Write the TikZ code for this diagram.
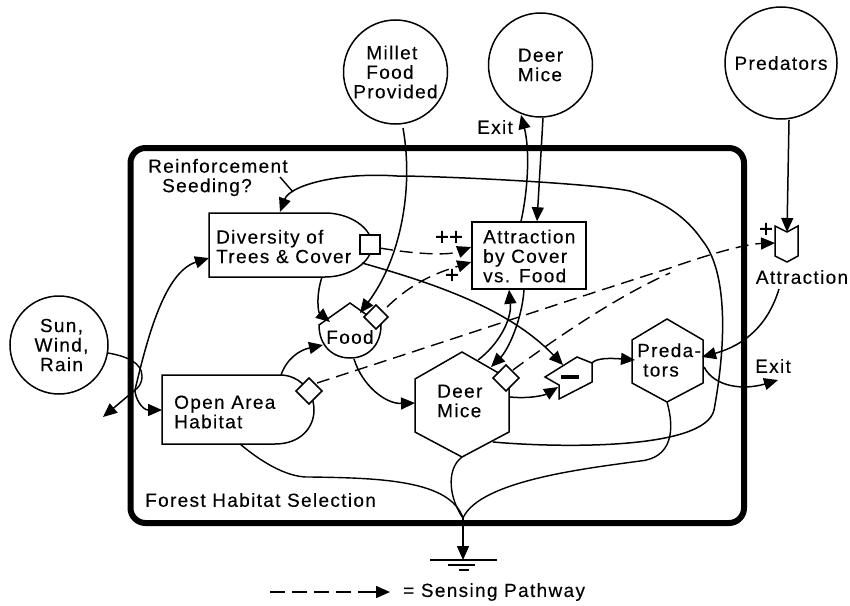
\documentclass[tikz,border=0pt]{standalone}
\usepackage{fontspec}
\setmainfont{Liberation Sans}
\usetikzlibrary{arrows.meta,calc}
\newcommand{\lbl}{\fontsize{19}{19.5}\selectfont\addfontfeatures{LetterSpace=7,FakeBold=0.25}}
\newcommand{\lblb}{\fontsize{24}{24}\selectfont\addfontfeatures{FakeBold=0.8}}
\tikzset{
  x=1pt,y=-1pt,
  flow/.style={line width=1.5pt,-{Triangle[length=14pt,width=12pt]}},
  plain/.style={line width=1.4pt},
  sense/.style={line width=1.4pt,dash pattern=on 13pt off 7pt,-{Triangle[length=14pt,width=12pt]}},
  senseline/.style={line width=1.4pt,dash pattern=on 13pt off 7pt},
  stock/.style={draw,line width=1.5pt,fill=white},
  ext/.style={circle,draw,line width=1.5pt,fill=white,inner sep=0pt,align=center,font=\lbl},
  lab/.style={inner sep=0pt,align=left,font=\lbl},
  labc/.style={inner sep=0pt,align=center,font=\lbl},
  sign/.style={inner sep=0pt,font=\lblb},
}
\begin{document}
\begin{tikzpicture}
\useasboundingbox (0,0) rectangle (850,605);
\draw[line width=6pt,rounded corners=15pt] (130.5,148) rectangle (744,523);

% attach points
\coordinate (sunOut) at (108,353);
\coordinate (branch) at (135,390);
\coordinate (exitW) at (103,417);
\coordinate (divL) at (209,258);
\coordinate (divT) at (280,212);
\coordinate (divB) at (322,277);
\coordinate (divR) at (362,263);
\coordinate (openL) at (162,410);
\coordinate (openT) at (281,375);
\coordinate (openB) at (240,444);
\coordinate (foodL) at (323,345);
\coordinate (foodT) at (330,322);
\coordinate (foodM) at (360,313);
\coordinate (foodB) at (354,359);
\coordinate (deerL) at (415,403);
\coordinate (deerB) at (462,457);
\coordinate (deerLR) at (493,442);
\coordinate (deerR) at (510,397);
\coordinate (deerTA) at (478,360);
\coordinate (deerTB) at (491,367);
\coordinate (minusT) at (563,365);
\coordinate (minusB) at (558,387);
\coordinate (minusR) at (592,363);
\coordinate (predL) at (635,360);
\coordinate (predR) at (702,357);
\coordinate (predRO) at (704,367);
\coordinate (predB) at (667,402);
\coordinate (exitE) at (778,380);
\coordinate (drain) at (463,518);
\coordinate (ground) at (463,560);
\coordinate (exitN) at (521,115);
\coordinate (valveT) at (787,232);
\coordinate (valveL) at (775,243);
\coordinate (attrOut) at (779,289);
\coordinate (leaderA) at (280,177);
\coordinate (leaderB) at (293,192);
\coordinate (legA) at (270,592);
\coordinate (legB) at (390,592);
\coordinate (milOut) at (403,128);
\coordinate (miceOut) at (543,118);
\coordinate (predOut) at (789,120);

% stocks
\node[stock,rectangle,minimum width=114pt,minimum height=67pt,inner sep=0pt] (attr) at (529,255.5) {};
\draw[stock] (209,213) -- (325,213) .. controls (350,213) and (372,228) .. (372,245) .. controls (372,262) and (350,277) .. (325,277) -- (209,277) -- cycle;
\draw[stock] (162,375) -- (280,375) .. controls (300,375) and (314,392) .. (314,410) .. controls (314,428) and (300,444) .. (275,444) -- (162,444) -- cycle;
\draw[stock] (319,325) -- (350,303) -- (381,325) .. controls (381,345) and (368,358) .. (350,358) .. controls (332,358) and (319,345) .. (319,325) -- cycle;
\draw[stock] (462,352) -- (509,379) -- (509,432) -- (462,457) -- (415,432) -- (415,379) -- cycle;
\draw[stock] (667,319) -- (703,340) -- (703,383) -- (667,402) -- (632,383) -- (632,340) -- cycle;
\draw[stock] (545,377) -- (577,357) -- (592,363) -- (592,382) -- (559,399) -- (559,385) -- cycle;
\draw[stock] (775,226) -- (787,232) -- (798,226) -- (798,256) -- (787,262) -- (775,256) -- cycle;
\fill (561,375) rectangle (579,379);

% external circles
\node[ext,minimum size=98pt] (sun) at (59,345) {\hspace*{5pt}Sun,\\\hspace*{5pt}Wind,\\\hspace*{5pt}Rain};
\node[ext,minimum size=104pt,align=left] (millet) at (395.5,72) {\hspace*{13pt}Millet\\\hspace*{13pt}Food\\Provided};
\node[ext,minimum size=104pt,align=left] (mice) at (540.5,65) {Deer\\Mice};
\node[ext,minimum size=112pt] (pred) at (781,63) {Predators};

% flows
\draw[plain] (sunOut) .. controls (125,356) and (142,362) .. (142,376) .. controls (142,384) and (138,388) .. (branch);
\draw[flow] (branch) .. controls (135,398) and (142,410) .. (openL);
\draw[flow] (branch) -- (exitW);
\draw[flow] (branch) .. controls (148,335) and (165,272) .. (divL);
\draw[flow] (openT) .. controls (287,358) and (300,350) .. (foodL);
\draw[flow] (divB) .. controls (316,295) and (318,312) .. (foodT);
\draw[flow] (milOut) .. controls (414,190) and (400,260) .. (foodM);
\draw[flow] (foodB) .. controls (362,385) and (385,404) .. (deerL);
\draw[flow] (divR) .. controls (440,285) and (510,310) .. (minusT);
\draw[flow] (deerTA) .. controls (498,345) and (512,320) .. (attr.south -| 509,0);
\draw[flow] (attr.south -| 524,0) .. controls (522,320) and (508,350) .. (deerTB);
\draw[flow] (attr.north -| 521,0) .. controls (528,190) and (530,150) .. (exitN);
\draw[flow] (miceOut) -- (attr.north -| 537,0);
\draw[flow] (deerR) .. controls (530,399) and (545,395) .. (minusB);
\draw[flow] (minusR) .. controls (596,358) and (610,358) .. (predL);
\draw[flow] (predOut) -- (valveT);
\draw[flow] (attrOut) .. controls (768,325) and (745,345) .. (predR);
\draw[flow] (predRO) .. controls (715,388) and (745,390) .. (exitE);
\draw[plain] (predB) .. controls (675,430) and (672,458) .. (640,461) .. controls (590,468) and (480,480) .. (drain);
\draw[plain] (deerB) .. controls (445,470) and (450,500) .. (drain);
\draw[plain] (openB) .. controls (265,465) and (290,478) .. (310,477) .. controls (380,478) and (450,480) .. (drain);
\draw[flow] (drain) -- (ground);
\draw[flow] (deerLR) .. controls (560,448) and (705,450) .. (714,410) .. controls (727,340) and (727,270) .. (702,240) .. controls (685,215) and (660,200) .. (630,191) .. controls (590,183) and (440,176) .. (397,176) .. controls (340,172) and (290,185) .. (divT);
\draw[plain] (leaderA) -- (leaderB);

% sensing
\draw[senseline] (513,370) .. controls (560,335) and (620,295) .. (670,273);
\draw[sense] (317,383) .. controls (450,340) and (600,290) .. (670,268) .. controls (710,254) and (745,244) .. (valveL);
\draw[sense] (387,307) .. controls (415,280) and (440,272) .. (attr.west |- 0,262);
\draw[sense] (380,248) .. controls (420,255) and (450,255) .. (attr.west |- 0,247);
\draw[line width=1.4pt,dash pattern=on 15pt off 7pt] (legA) -- (372,592);
\draw[flow] (372,592) -- (legB);

% gates
\draw[stock] (360,235) rectangle (380,254);
\draw[stock] (376,305) -- (388,317) -- (376,329) -- (364,317) -- cycle;
\draw[stock] (506,365) -- (519,378) -- (506,391) -- (493,378) -- cycle;
\draw[stock] (309,378) -- (322,391) -- (309,404) -- (296,391) -- cycle;

% ground
\draw[line width=1.2pt] (430,560) -- (497,560);
\draw[line width=1.1pt] (448,565) -- (475,565);
\draw[line width=1.1pt] (459,570) -- (469,570);

% labels
\node[lab,anchor=west] (tDiv) at (216,246.5) {Diversity of\\Trees \& Cover};
\node[lab,anchor=west] (tOpen) at (174,412) {Open Area\\Habitat};
\node[labc] (tFood) at (350,337) {Food};
\node[lab,anchor=west] (tDeer) at (437,401) {Deer\\Mice};
\node[lab,anchor=west] (tPred) at (637,360) {Preda-\\\hspace*{6pt}tors};
\node[lab,anchor=west] (tAttr) at (483,256) {Attraction\\by Cover\\vs. Food};
\node[lab,anchor=west] (tRein) at (148,177.5) {Reinforcement\\\hspace*{14pt}Seeding?};
\node[lab,anchor=west] (tForest) at (145,500) {Forest Habitat Selection};
\node[lab,anchor=west] (tExitN) at (477,127) {Exit};
\node[lab,anchor=west] (tExitE) at (755,366) {Exit};
\node[lab] (tValve) at (802,277) {Attraction};
\node[lab,anchor=west] (tLeg) at (403,592) {= Sensing Pathway};
\node[sign] (p1) at (442,238) {+};
\node[sign] (p2) at (456,238) {+};
\node[sign] (p3) at (452,276) {+};
\node[sign] (p4) at (766,230) {+};
\end{tikzpicture}
\end{document}
